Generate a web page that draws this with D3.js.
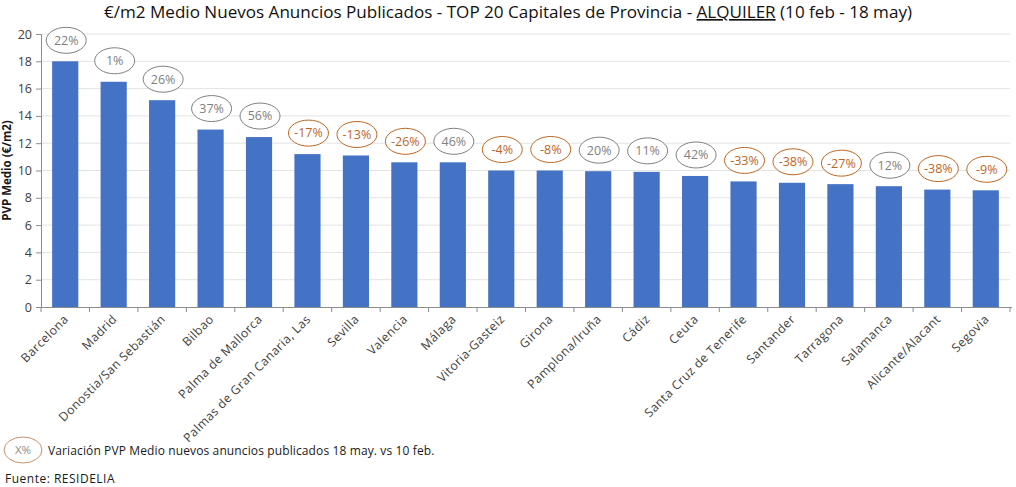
<!DOCTYPE html>
<html><head><meta charset="utf-8">
<script src="https://cdn.jsdelivr.net/npm/d3@7"></script>
<style>
body{margin:0;background:#fff;}
svg{display:block;font-family:"Open Sans",sans-serif;}
</style></head>
<body><svg id="c" width="1016" height="487"></svg>
<script>
const categories = ["Barcelona","Madrid","Donostia/San Sebastián","Bilbao","Palma de Mallorca","Palmas de Gran Canaria, Las","Sevilla","Valencia","Málaga","Vitoria-Gasteiz","Girona","Pamplona/Iruña","Cádiz","Ceuta","Santa Cruz de Tenerife","Santander","Tarragona","Salamanca","Alicante/Alacant","Segovia"];
const values = [18.0,16.5,15.15,13.0,12.45,11.2,11.1,10.6,10.6,10.0,10.0,9.95,9.9,9.6,9.2,9.1,9.0,8.85,8.6,8.55];
const variation = [22,1,26,37,56,-17,-13,-26,46,-4,-8,20,11,42,-33,-38,-27,12,-38,-9];
const yTicks = [0,2,4,6,8,10,12,14,16,18,20];

const svg = d3.select("#c");
const L=41, R=1010, T=34, B=307;
const x = d3.scaleBand().domain(categories).range([L,R]).paddingInner(0.46).paddingOuter(0.23);
const y = d3.scaleLinear().domain([0,20]).range([B,T]);

// title
const title = svg.append("text").attr("x",508).attr("y",18).attr("text-anchor","middle")
  .attr("font-size",16.5).attr("fill","#111").attr("textLength",808).attr("lengthAdjust","spacingAndGlyphs");
title.append("tspan").text("€/m2 Medio Nuevos Anuncios Publicados - TOP 20 Capitales de Provincia - ");
title.append("tspan").attr("text-decoration","underline").text("ALQUILER");
title.append("tspan").text(" (10 feb - 18 may)");

// grid
svg.append("g").selectAll("line").data(yTicks.filter(d=>d>0)).join("line")
  .attr("x1",L).attr("x2",R).attr("y1",d=>y(d)).attr("y2",d=>y(d))
  .attr("stroke","#e3e3e3").attr("stroke-width",1);

// y axis
const ya = svg.append("g").attr("transform",`translate(${L},0)`)
  .call(d3.axisLeft(y).tickValues(yTicks).tickSize(5).tickPadding(4));
ya.select(".domain").attr("stroke","#8c8c8c");
ya.selectAll(".tick line").attr("stroke","#8c8c8c");
ya.selectAll("text").attr("font-size",12.5).attr("fill","#404040").attr("font-family","Open Sans");

svg.append("text").attr("transform",`translate(11,${(T+B)/2}) rotate(-90)`).attr("text-anchor","middle")
  .attr("font-size",11.5).attr("font-weight","bold").attr("fill","#1a1a1a").text("PVP Medio (€/m2)");

// bars
svg.append("g").selectAll("rect").data(categories).join("rect")
  .attr("x",d=>x(d)).attr("width",x.bandwidth())
  .attr("y",(d,i)=>y(values[i])).attr("height",(d,i)=>B-y(values[i]))
  .attr("fill","#4472c4");

// x axis
svg.append("line").attr("x1",L).attr("x2",R+2).attr("y1",B+0.5).attr("y2",B+0.5).attr("stroke","#8c8c8c");
const bounds = d3.range(categories.length+1).map(i=>L+i*(R-L)/categories.length);
svg.append("g").selectAll("line").data(bounds).join("line")
  .attr("x1",d=>d).attr("x2",d=>d).attr("y1",B).attr("y2",B+5).attr("stroke","#8c8c8c");
svg.append("g").selectAll("text").data(categories).join("text")
  .attr("transform",d=>`translate(${x(d)+x.bandwidth()/2+4},${B+13}) rotate(-45)`)
  .attr("text-anchor","end").attr("font-size",12.2).attr("letter-spacing",0.45).attr("fill","#404040").text(d=>d);

// variation ellipses
const grey="#7f7f7f", orange="#c0651f";
const lab = svg.append("g").selectAll("g").data(categories).join("g")
  .attr("transform",(d,i)=>`translate(${x(d)+x.bandwidth()/2+1},${y(values[i])-21})`);
lab.append("ellipse").attr("rx",20).attr("ry",13).attr("fill","#fff")
  .attr("stroke",(d,i)=>variation[i]<0?orange:grey).attr("stroke-width",1);
lab.append("text").attr("text-anchor","middle").attr("dy","0.35em").attr("font-size",12.5)
  .attr("fill",(d,i)=>variation[i]<0?orange:grey).text((d,i)=>variation[i]+"%");

// legend
const lg = svg.append("g").attr("transform","translate(23,450)");
lg.append("ellipse").attr("rx",19).attr("ry",13).attr("fill","#fff").attr("stroke","#c9916a");
lg.append("text").attr("text-anchor","middle").attr("dy","0.35em").attr("font-size",11.5).attr("fill","#8c8c8c").text("X%");
svg.append("text").attr("x",48).attr("y",454.5).attr("font-size",12).attr("letter-spacing",0.12).attr("fill","#1a1a1a")
  .text("Variación PVP Medio nuevos anuncios publicados 18 may. vs 10 feb.");
svg.append("text").attr("x",5).attr("y",483).attr("font-size",12).attr("letter-spacing",0.5).attr("fill","#1a1a1a").text("Fuente: RESIDELIA");
</script></body></html>
